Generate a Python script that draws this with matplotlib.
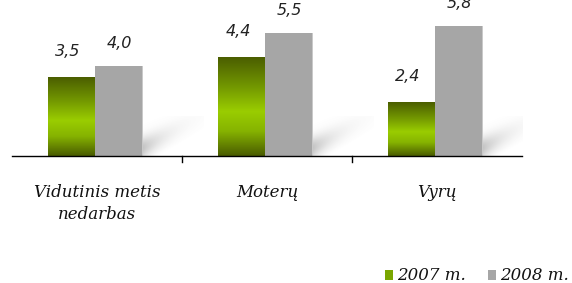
import numpy as np
import matplotlib.pyplot as plt
from matplotlib.patches import Rectangle
from matplotlib.colors import LinearSegmentedColormap

categories = ["Vidutinis metis\nnedarbas", "Moterų", "Vyrų"]
series_names = ["2007 m.", "2008 m."]
values_2007 = [3.5, 4.4, 2.4]
values_2008 = [4.0, 5.5, 5.8]

W, H = 572, 283
fig = plt.figure(figsize=(W / 100, H / 100), dpi=100)
# axes placed in pixel terms: baseline at y=156, x from 12 to 522
ax = fig.add_axes([12 / W, (H - 156) / H, 510 / W, 156 / H])
ax.axis("off")

PX_X = 170.0   # pixels per category
PX_Y = 22.4    # pixels per unit of value

bar_w = 0.28
shift = -0.01
x = np.arange(len(categories))

# green gradient: dark at top and bottom, bright lime in the middle
green_cmap = LinearSegmentedColormap.from_list(
    "g", [(0.0, "#4b5e00"), (0.3, "#739800"), (0.55, "#9acd00"), (0.75, "#86b300"), (1.0, "#4a5c00")]
)
g = np.linspace(0, 1, 200).reshape(-1, 1)

# soft shadow blob (pixel grid), drawn right of each gray bar
sw, sh = 60, 40
dx, dy = np.meshgrid(np.arange(sw) + 0.5, np.arange(sh) + 0.5)
alpha = 0.42 * np.exp(-dx / 20.0) * np.exp(-((dy - 0.55 * dx - 8) / 11.0) ** 2)
below = dy < 0.55 * dx - 3
alpha[below] *= np.exp(-((0.55 * dx[below] - 3 - dy[below]) / 4.0) ** 2)
shadow = np.zeros((sh, sw, 4))
shadow[..., :3] = 0.45
shadow[..., 3] = alpha

for xi, v7, v8 in zip(x, values_2007, values_2008):
    x0 = xi + shift - bar_w
    x1 = xi + shift
    x2 = xi + shift + bar_w

    ax.imshow(shadow, origin="lower", aspect="auto", interpolation="bilinear",
              extent=[x2, x2 + sw / PX_X, 0, sh / PX_Y], zorder=1)

    # 2007 bar with vertical gradient
    ax.imshow(g[::-1], cmap=green_cmap, aspect="auto",
              extent=[x0, x1, 0, v7], origin="lower", zorder=2)
    # 2008 bar, with a lighter right edge
    ax.bar(x1 + bar_w / 2, v8, width=bar_w, color="#a6a6a6", zorder=2)
    ax.bar(x2 - 0.5 / PX_X, v8, width=1.5 / PX_X, color="#c9c9c9", zorder=2)

    ax.text(x0 + bar_w / 2 - 0.02, v7 + 1.15, f"{v7:.1f}".replace(".", ","),
            ha="center", va="center", fontsize=11.5, style="italic",
            family="DejaVu Sans", color="#222222", clip_on=False)
    ax.text(x1 + bar_w / 2, v8 + 1.0, f"{v8:.1f}".replace(".", ","),
            ha="center", va="center", fontsize=11.5, style="italic",
            family="DejaVu Sans", color="#222222", clip_on=False)

    ax.text(xi, -1.25, categories[xi], ha="center", va="top", fontsize=12,
            style="italic", family="DejaVu Serif", color="#111111",
            linespacing=1.35, clip_on=False)

# baseline and separating ticks
ax.plot([-0.5, 2.5], [0, 0], color="black", lw=1, clip_on=False, zorder=3)
for b in [0.5, 1.5]:
    ax.plot([b, b], [0, -0.28], color="black", lw=1, clip_on=False, zorder=3)

ax.set_xlim(-0.5, 2.5)
ax.set_ylim(0, 156 / PX_Y)


# legend drawn manually
def fx(p):
    return p / W


def fy(p):
    return (H - p) / H


leg = [("#7aa600", series_names[0], 385), ("#a6a6a6", series_names[1], 488)]
for col, name, px in leg:
    fig.patches.append(Rectangle((fx(px), fy(280)), 8 / W, 10 / H, transform=fig.transFigure,
                                 facecolor=col, edgecolor="none"))
    fig.text(fx(px + 12), fy(276), name, ha="left", va="center", fontsize=12,
             style="italic", family="DejaVu Serif", color="#111111")

fig.savefig("out.png", dpi=100)
